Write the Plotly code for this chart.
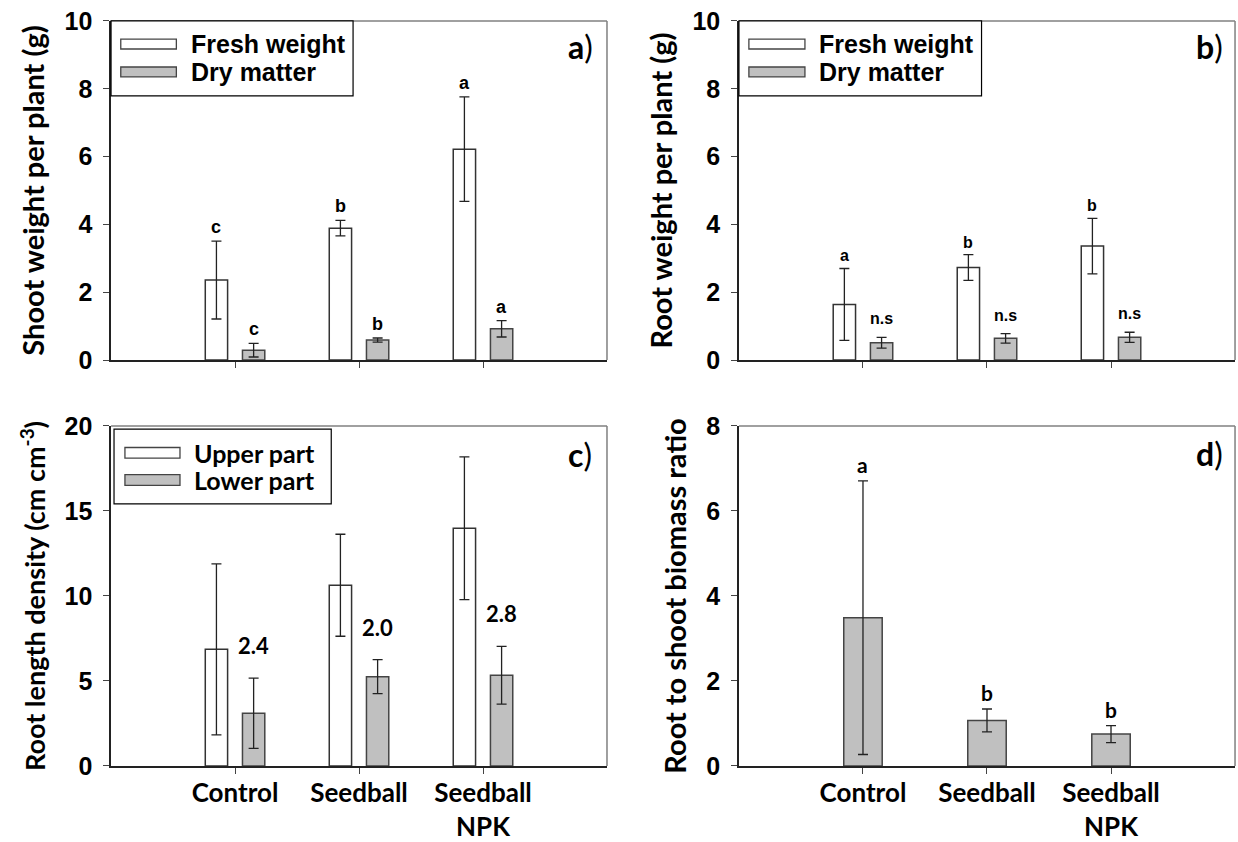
import plotly.graph_objects as go

# ---------------- data ----------------
categories = ["Control", "Seedball", "Seedball<br>NPK"]
cat_pos = [1, 2, 3]

shoot_fresh = [2.36, 3.89, 6.22]
shoot_fresh_err = [1.15, 0.23, 1.54]
shoot_dry = [0.29, 0.59, 0.92]
shoot_dry_err = [0.20, 0.06, 0.24]
shoot_fresh_letters = ["c", "b", "a"]
shoot_dry_letters = ["c", "b", "a"]

root_fresh = [1.64, 2.73, 3.36]
root_fresh_err = [1.06, 0.38, 0.82]
root_dry = [0.51, 0.64, 0.67]
root_dry_err = [0.16, 0.14, 0.15]
root_fresh_letters = ["a", "b", "b"]
root_dry_letters = ["n.s", "n.s", "n.s"]

rld_upper = [6.86, 10.63, 13.98]
rld_upper_err = [5.03, 3.00, 4.20]
rld_lower = [3.10, 5.25, 5.34]
rld_lower_err = [2.07, 1.00, 1.70]
rld_ratio_labels = ["2.4", "2.0", "2.8"]

rs_ratio = [3.49, 1.07, 0.75]
rs_ratio_err = [3.22, 0.27, 0.20]
rs_letters = ["a", "b", "b"]

# ---------------- style ----------------
ARIAL = "Liberation Sans"
CALIBRI = "Lato"
W = 1238
H = 842
WHITE_BAR = dict(color="white", line=dict(color="#333333", width=1.5))
GRAY_BAR = dict(color="#c0c0c0", line=dict(color="#444444", width=1.5))
ERR = dict(type="data", color="#222222", thickness=1.3, width=5, visible=True)

BW = 0.18       # bar width (pair panels)
OFF_L = -0.24   # left bar offset
OFF_R = 0.06    # right bar offset
BW_D = 0.31     # bar width (single panel)

fig = go.Figure()


def add_bar(vals, errs, ax, ay, marker, width, offset):
    fig.add_trace(go.Bar(
        x=cat_pos, y=vals, width=width, offset=offset,
        marker=marker, error_y=dict(ERR, array=errs),
        xaxis=ax, yaxis=ay, showlegend=False, hoverinfo="x+y"))


# panel a
add_bar(shoot_fresh, shoot_fresh_err, "x", "y", WHITE_BAR, BW, OFF_L)
add_bar(shoot_dry, shoot_dry_err, "x", "y", GRAY_BAR, BW, OFF_R)
# panel b
add_bar(root_fresh, root_fresh_err, "x2", "y2", WHITE_BAR, BW, OFF_L)
add_bar(root_dry, root_dry_err, "x2", "y2", GRAY_BAR, BW, OFF_R)
# panel c
add_bar(rld_upper, rld_upper_err, "x3", "y3", WHITE_BAR, BW, OFF_L)
add_bar(rld_lower, rld_lower_err, "x3", "y3", GRAY_BAR, BW, OFF_R)
# panel d
add_bar(rs_ratio, rs_ratio_err, "x4", "y4", GRAY_BAR, BW_D, -BW_D / 2)

annotations = []
shapes = []


def letters(vals, errs, labels, xr, yr, offset, width, font, size, yshift=2):
    for p, v, e, t in zip(cat_pos, vals, errs, labels):
        annotations.append(dict(
            x=p + offset + width / 2, y=v + e, xref=xr, yref=yr, text=t,
            showarrow=False, yanchor="bottom", yshift=yshift,
            font=dict(family=font, size=size, color="black", weight="bold")))


letters(shoot_fresh, shoot_fresh_err, shoot_fresh_letters, "x", "y", OFF_L, BW, ARIAL, 18)
letters(shoot_dry, shoot_dry_err, shoot_dry_letters, "x", "y", OFF_R, BW, ARIAL, 18)
letters(root_fresh, root_fresh_err, root_fresh_letters, "x2", "y2", OFF_L, BW, ARIAL, 16)
letters(root_dry, root_dry_err, root_dry_letters, "x2", "y2", OFF_R, BW, ARIAL, 16, yshift=8)
letters(rld_lower, rld_lower_err, rld_ratio_labels, "x3", "y3", OFF_R, BW, CALIBRI, 22, yshift=17)
letters(rs_ratio, rs_ratio_err, rs_letters, "x4", "y4", -BW_D / 2, BW_D, CALIBRI, 21)

# panel labels
for ax, lab, xx, yy in [("x", "a", 0.976, 0.926), ("x2", "b", 0.98, 0.926),
                         ("x3", "c", 0.974, 0.915), ("x4", "d", 0.98, 0.918)]:
    yr = "y" if ax == "x" else "y" + ax[1:]
    annotations.append(dict(
        x=xx, y=yy, xref=ax + " domain", yref=yr + " domain",
        text="<b>" + lab + "</b>)", showarrow=False, xanchor="right", yanchor="middle",
        font=dict(family=CALIBRI, size=32, color="black")))

# frame top/right (gray)
for ax in ["x", "x2", "x3", "x4"]:
    yr = "y" if ax == "x" else "y" + ax[1:]
    shapes.append(dict(type="line", xref=ax + " domain", yref=yr + " domain",
                       x0=0, x1=1, y0=1, y1=1, line=dict(color="#808080", width=1.5)))
    shapes.append(dict(type="line", xref=ax + " domain", yref=yr + " domain",
                       x0=1, x1=1, y0=0, y1=1, line=dict(color="#808080", width=1.5)))


# manual legends
def legend(ax, yr, box, sw_x, sw_y, sw_h, txt_x, labels, font, size):
    shapes.append(dict(type="rect", xref=ax + " domain", yref=yr + " domain",
                       x0=box[0], x1=box[1], y0=box[2], y1=box[3],
                       fillcolor="white", line=dict(color="black", width=1.2), layer="above"))
    for (yc, lab, fill) in zip(sw_y, labels, ["white", "#c0c0c0"]):
        shapes.append(dict(type="rect", xref=ax + " domain", yref=yr + " domain",
                           x0=sw_x[0], x1=sw_x[1], y0=yc - sw_h, y1=yc + sw_h,
                           fillcolor=fill, line=dict(color="#444444", width=1.3), layer="above"))
        annotations.append(dict(x=txt_x, y=yc, xref=ax + " domain", yref=yr + " domain",
                                text=lab, showarrow=False, xanchor="left", yanchor="middle",
                                font=dict(family=font, size=size, color="black", weight="bold")))


legend("x", "y", (0.0, 0.488, 0.779, 1.0), (0.0196, 0.1317), (0.932, 0.8496), 0.0147,
       0.158, ["Fresh weight", "Dry matter"], ARIAL, 25)
legend("x2", "y2", (0.0, 0.489, 0.779, 1.0), (0.020, 0.133), (0.932, 0.8496), 0.0147,
       0.158, ["Fresh weight", "Dry matter"], ARIAL, 25)
legend("x3", "y3", (0.006, 0.444, 0.771, 0.991), (0.028, 0.139), (0.921, 0.841), 0.0156,
       0.164, ["Upper part", "Lower part"], CALIBRI, 25)

# axes
XA = [0.0897, 0.4903]
XB = [0.5969, 0.9976]
YT = [0.5724, 0.9751]
YB = [0.0903, 0.4941]

tickfont = dict(family=ARIAL, size=25, color="black", weight="bold")
catfont = dict(family=CALIBRI, size=26, color="black", weight="bold")


def xaxis(domain, anchor, show_labels):
    return dict(domain=domain, anchor=anchor, range=[0, 4], showgrid=False, zeroline=False,
                showline=True, linecolor="#222222", linewidth=1.5, automargin=False,
                ticks="outside", ticklen=6, tickcolor="#444444", tickwidth=1.2,
                tickvals=cat_pos, ticktext=categories, showticklabels=show_labels,
                tickfont=catfont, ticklabelstandoff=-3, fixedrange=True)


def yaxis(domain, anchor, rng, dtick, title, tsize=29):
    return dict(domain=domain, anchor=anchor, range=rng, dtick=dtick, showgrid=False,
                zeroline=False, showline=True, linecolor="#222222", linewidth=1.5,
                automargin=False,
                ticks="outside", ticklen=6, tickcolor="#444444", tickwidth=1.2,
                tickfont=tickfont, ticklabelstandoff=6,
                title=dict(text=title, standoff=11,
                           font=dict(family=CALIBRI, size=tsize, color="black", weight="bold")),
                fixedrange=True)


fig.update_layout(
    width=W, height=H, margin=dict(l=0, r=0, t=0, b=0, autoexpand=False),
    paper_bgcolor="white", plot_bgcolor="white", barmode="overlay",
    xaxis=xaxis(XA, "y", False),
    yaxis=yaxis(YT, "x", [0, 10], 2, "Shoot weight per plant (g)"),
    xaxis2=xaxis(XB, "y2", False),
    yaxis2=yaxis(YT, "x2", [0, 10], 2, "Root weight per plant (g)"),
    xaxis3=xaxis(XA, "y3", True),
    yaxis3=yaxis(YB, "x3", [0, 20], 5, "Root length density (cm cm<sup>-3</sup>)", tsize=27),
    xaxis4=xaxis(XB, "y4", True),
    yaxis4=yaxis(YB, "x4", [0, 8], 2, "Root to shoot biomass ratio"),
    annotations=annotations, shapes=shapes,
)

fig.write_html(
    "out.html",
    config={"displayModeBar": False},
    post_script="document.body.style.margin='0';document.body.style.padding='0';"
                "document.body.style.overflow='hidden';",
)
